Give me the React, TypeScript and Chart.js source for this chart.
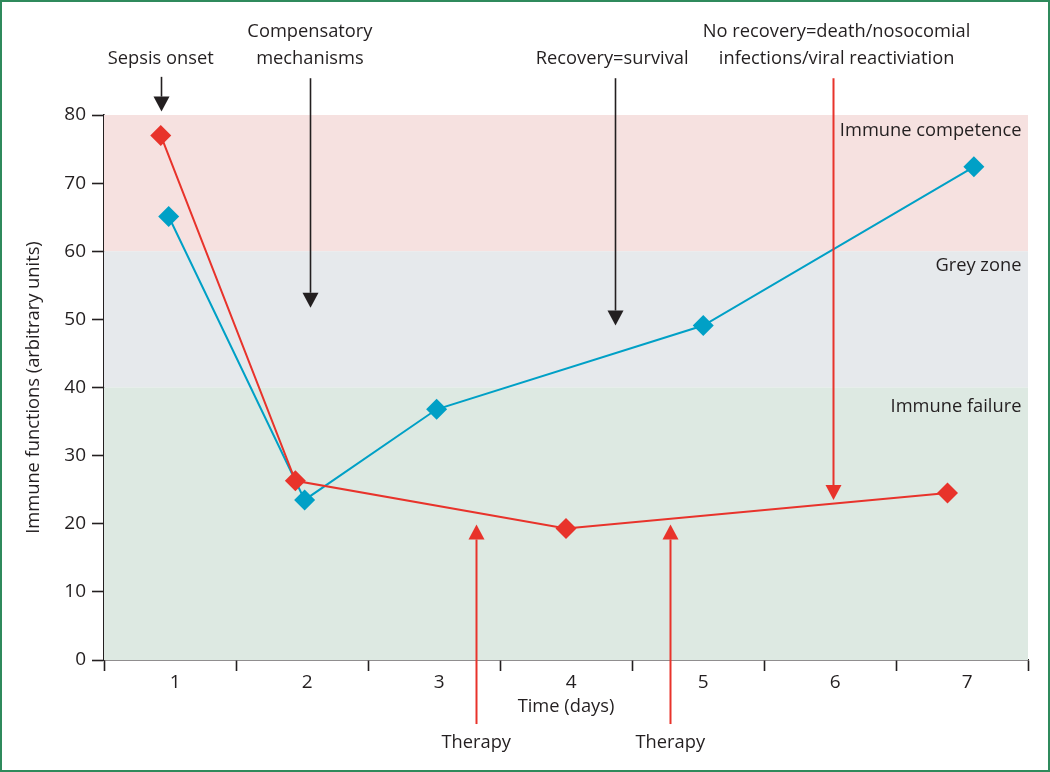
import React, { useEffect, useRef } from 'react';
import { Chart, registerables } from 'chart.js';

Chart.register(...registerables);

// ---- data ----
const dayLabels = [1, 2, 3, 4, 5, 6, 7];
const dayBoundaries = [0.5, 1.5, 2.5, 3.5, 4.5, 5.5, 6.5, 7.5];
const yTickValues = [0, 10, 20, 30, 40, 50, 60, 70, 80];

const noRecoveryX = [0.93, 1.95, 4.0, 6.89];
const noRecoveryY = [77, 26.3, 19.3, 24.5];
const recoveryX = [0.99, 2.02, 3.02, 5.04, 7.09];
const recoveryY = [65.1, 23.5, 36.8, 49.1, 72.4];

const zoneNames = ['Immune competence', 'Grey zone', 'Immune failure'];
const zoneLow = [60, 40, 0];
const zoneHigh = [80, 60, 40];

// ---- annotation config (data units) ----
const ZONE_COLORS = ['#f6e1e0', '#e6e9ec', '#dde9e2'];
const zoneLabelX = 7.45;
const zoneLabelY = [77.7, 57.9, 37.2];

const arrowX = [0.93, 2.06, 4.37, 6.02, 3.32, 4.79];
const arrowTail = [85.6, 85.4, 85.4, 85.4, -9.4, -9.4];
const arrowTip = [80.5, 51.7, 49.1, 23.5, 19.9, 19.9];
const arrowColor = ['#231f20', '#231f20', '#231f20', '#e8332b', '#e8332b', '#e8332b'];

const noteText = [
  'Sepsis onset',
  'Compensatory',
  'mechanisms',
  'Recovery=survival',
  'No recovery=death/nosocomial',
  'infections/viral reactiviation',
  'Therapy',
  'Therapy',
];
const noteX = [0.93, 2.06, 2.06, 4.35, 6.05, 6.05, 3.32, 4.79];
const noteY = [88.3, 92.2, 88.3, 88.3, 92.2, 88.3, -12.1, -12.1];

const RED = '#e8332b';
const BLUE = '#00a0c6';
const INK = '#231f20';
const FONT = '"Open Sans", sans-serif';
const TEXT_SIZE = 18.3;
const LABEL_NUDGE = 0.04;

const annotationPlugin = {
  id: 'sepsisAnnotations',
  beforeDatasetsDraw(chart: any) {
    const { ctx, chartArea } = chart;
    const y = chart.scales.y;
    ctx.save();
    zoneNames.forEach((_, i) => {
      const top = y.getPixelForValue(zoneHigh[i]);
      const bottom = y.getPixelForValue(zoneLow[i]);
      ctx.fillStyle = ZONE_COLORS[i];
      ctx.fillRect(chartArea.left, top, chartArea.right - chartArea.left, bottom - top);
    });
    ctx.restore();
  },
  afterDatasetsDraw(chart: any) {
    const { ctx } = chart;
    const x = chart.scales.x;
    const y = chart.scales.y;
    ctx.save();
    ctx.font = `${TEXT_SIZE}px ${FONT}`;
    ctx.fillStyle = INK;
    ctx.textAlign = 'right';
    ctx.textBaseline = 'middle';
    zoneNames.forEach((name, i) => {
      ctx.fillText(name, x.getPixelForValue(zoneLabelX), y.getPixelForValue(zoneLabelY[i]));
    });
    arrowX.forEach((ax, i) => {
      const px = Math.round(x.getPixelForValue(ax)) + 0.5;
      const tail = y.getPixelForValue(arrowTail[i]);
      const tip = y.getPixelForValue(arrowTip[i]);
      const dir = tip > tail ? 1 : -1;
      const headLen = 15;
      const headHalf = 8;
      ctx.strokeStyle = arrowColor[i];
      ctx.fillStyle = arrowColor[i];
      ctx.lineWidth = i < 3 ? 1.6 : 2;
      ctx.beginPath();
      ctx.moveTo(px, tail);
      ctx.lineTo(px, tip - dir * headLen);
      ctx.stroke();
      ctx.beginPath();
      ctx.moveTo(px, tip);
      ctx.lineTo(px - headHalf, tip - dir * headLen);
      ctx.lineTo(px + headHalf, tip - dir * headLen);
      ctx.closePath();
      ctx.fill();
    });
    ctx.font = `${TEXT_SIZE}px ${FONT}`;
    ctx.fillStyle = INK;
    ctx.textAlign = 'center';
    ctx.textBaseline = 'middle';
    noteText.forEach((t, i) => {
      ctx.fillText(t, x.getPixelForValue(noteX[i]), y.getPixelForValue(noteY[i]));
    });
    ctx.restore();
  },
};

export default function App() {
  const canvasRef = useRef<HTMLCanvasElement | null>(null);

  useEffect(() => {
    if (!canvasRef.current) return;
    const chart = new Chart(canvasRef.current, {
      type: 'scatter',
      data: {
        datasets: [
          {
            label: 'No recovery',
            data: noRecoveryX.map((v, i) => ({ x: v, y: noRecoveryY[i] })),
            showLine: true,
            borderColor: RED,
            backgroundColor: RED,
            borderWidth: 2,
            pointStyle: 'rectRot',
            pointRadius: 10.5,
            pointBorderWidth: 0,
            pointBackgroundColor: RED,
          },
          {
            label: 'Recovery',
            data: recoveryX.map((v, i) => ({ x: v, y: recoveryY[i] })),
            showLine: true,
            borderColor: BLUE,
            backgroundColor: BLUE,
            borderWidth: 2,
            pointStyle: 'rectRot',
            pointRadius: 10.5,
            pointBorderWidth: 0,
            pointBackgroundColor: BLUE,
          },
        ],
      },
      options: {
        responsive: false,
        animation: false,
        devicePixelRatio: 1,
        layout: { padding: { left: 17, top: 113, right: 20, bottom: 48 } },
        plugins: {
          legend: { display: false },
          tooltip: { enabled: false },
        },
        scales: {
          x: {
            type: 'linear',
            min: 0.5,
            max: 7.5,
            afterBuildTicks: (scale: any) => {
              const vals = [...dayBoundaries, ...dayLabels.map((d) => d + LABEL_NUDGE)].sort(
                (a, b) => a - b
              );
              scale.ticks = vals.map((v) => ({ value: v }));
            },
            afterFit: (scale: any) => {
              scale.height = 62;
            },
            grid: {
              display: true,
              drawOnChartArea: false,
              drawTicks: true,
              tickLength: 11,
              tickWidth: 1.6,
              tickColor: (c: any) =>
                c.tick && dayBoundaries.includes(c.tick.value) ? INK : 'rgba(0,0,0,0)',
            },
            border: { display: true, color: INK, width: 1.6 },
            ticks: {
              autoSkip: false,
              maxRotation: 0,
              padding: 0,
              color: INK,
              font: { family: FONT, size: 19 },
              callback: (v: any) => {
                const d = dayLabels.find((k) => Math.abs(k + LABEL_NUDGE - v) < 1e-6);
                return d === undefined ? '' : String(d);
              },
            },
            title: {
              display: true,
              text: 'Time (days)',
              color: INK,
              font: { family: FONT, size: TEXT_SIZE },
              padding: { top: 0, bottom: 4 },
            },
          },
          y: {
            type: 'linear',
            min: 0,
            max: 80,
            afterBuildTicks: (scale: any) => {
              scale.ticks = yTickValues.map((v) => ({ value: v }));
            },
            afterFit: (scale: any) => {
              scale.width = 85;
            },
            grid: {
              display: true,
              drawOnChartArea: false,
              drawTicks: true,
              tickLength: 12,
              tickWidth: 1.6,
              tickColor: INK,
            },
            border: { display: true, color: INK, width: 1.6 },
            ticks: {
              padding: 6,
              color: INK,
              font: { family: FONT, size: 19 },
            },
            title: {
              display: true,
              text: 'Immune functions (arbitrary units)',
              color: INK,
              font: { family: FONT, size: TEXT_SIZE },
              padding: { top: 4, bottom: 0 },
            },
          },
        },
      },
      plugins: [annotationPlugin],
    });
    return () => chart.destroy();
  }, []);

  return (
    <div
      style={{
        position: 'absolute',
        left: 0,
        top: 0,
        width: 1050,
        height: 772,
        boxSizing: 'border-box',
        border: '2px solid #2f8a5c',
        background: '#ffffff',
      }}
    >
      <canvas ref={canvasRef} width={1046} height={768} style={{ display: 'block' }} />
    </div>
  );
}
